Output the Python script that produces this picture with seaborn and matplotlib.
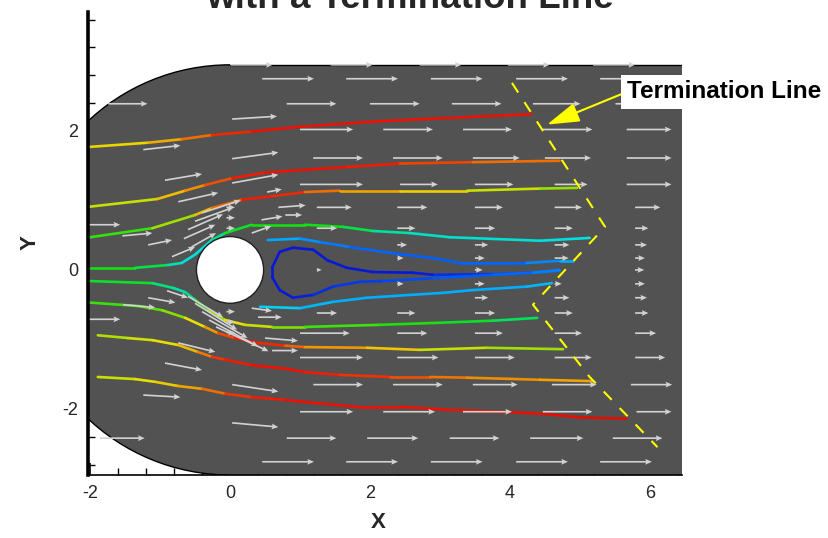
import numpy as np
import matplotlib
matplotlib.use("Agg")
import matplotlib.pyplot as plt
import seaborn as sns
from matplotlib import patches
from matplotlib.collections import LineCollection
from matplotlib.colors import LinearSegmentedColormap
from matplotlib.ticker import MultipleLocator

sns.set_theme(style="white")
plt.rcParams["font.family"] = ["Liberation Sans", "DejaVu Sans"]
plt.rcParams["axes.unicode_minus"] = False

# 流线：x, y, 颜色值（0 深蓝 ... 1 深红）
A_X = [-2.0, -1.17, -0.69, -0.26, 0.31, 1.0, 2.14, 3.43, 4.31]
A_Y = [1.77, 1.83, 1.88, 1.94, 1.99, 2.06, 2.14, 2.20, 2.24]
A_C = [0.65, 0.68, 0.78, 0.85, 0.9, 0.9, 0.9, 0.9, 0.9]

B_X = [-2.0, -1.04, -0.64, -0.36, 0.03, 0.5, 1.07, 1.67, 2.43, 3.47, 4.71]
B_Y = [0.91, 1.02, 1.14, 1.22, 1.32, 1.40, 1.44, 1.48, 1.53, 1.55, 1.57]
B_C = [0.6, 0.65, 0.75, 0.8, 0.88, 0.9, 0.9, 0.9, 0.88, 0.83, 0.8]

C_X = [-2.0, -1.11, -0.5, -0.26, 0.17, 0.6, 1.07, 1.57, 2.43, 3.39, 4.43, 4.96]
C_Y = [0.47, 0.60, 0.79, 0.89, 1.01, 1.06, 1.12, 1.14, 1.14, 1.14, 1.17, 1.18]
C_C = [0.5, 0.55, 0.65, 0.75, 0.88, 0.9, 0.85, 0.78, 0.7, 0.65, 0.6, 0.58]

D_X = [-2.0, -1.36, -0.89, -0.69, -0.5, -0.26, -0.07, 0.31, 1.07, 1.61, 2.04, 2.57, 3.14, 4.43, 5.14]
D_Y = [0.03, 0.03, 0.07, 0.10, 0.22, 0.43, 0.53, 0.65, 0.65, 0.62, 0.56, 0.53, 0.47, 0.42, 0.46]
D_C = [0.5, 0.5, 0.45, 0.38, 0.35, 0.4, 0.48, 0.5, 0.5, 0.5, 0.45, 0.4, 0.38, 0.37, 0.36]

E_X = [0.54, 1.0, 1.29, 1.71, 2.33, 2.9, 3.29, 4.24, 4.71, 4.9]
E_Y = [0.43, 0.45, 0.40, 0.33, 0.24, 0.17, 0.10, 0.10, 0.13, 0.13]
E_C = [0.3, 0.28, 0.25, 0.22, 0.2, 0.2, 0.2, 0.22, 0.28, 0.32]

F_X = [4.71, 4.33, 3.76, 2.9, 2.61, 2.04, 1.67, 1.39, 1.19, 0.9, 0.71, 0.6,
       0.6, 0.71, 0.9, 1.19, 1.47, 1.86, 2.19, 2.9, 3.76, 4.33, 4.71]
F_Y = [-0.01, -0.04, -0.06, -0.07, -0.04, -0.03, 0.03, 0.14, 0.29, 0.32, 0.26, 0.03,
       -0.10, -0.29, -0.40, -0.36, -0.24, -0.17, -0.16, -0.12, -0.07, -0.04, 0.0]
F_C = [0.25, 0.2, 0.15, 0.12, 0.1, 0.1, 0.1, 0.1, 0.1, 0.1, 0.1, 0.1,
       0.1, 0.1, 0.1, 0.12, 0.14, 0.15, 0.16, 0.18, 0.2, 0.22, 0.26]

G_X = [0.43, 1.0, 1.47, 1.96, 2.57, 3.04, 3.47, 4.24, 4.6]
G_Y = [-0.53, -0.55, -0.46, -0.40, -0.36, -0.33, -0.29, -0.24, -0.19]
G_C = [0.35, 0.32, 0.3, 0.3, 0.3, 0.3, 0.3, 0.3, 0.32]

H_X = [-2.0, -1.11, -0.81, -0.64, -0.5, -0.31, -0.07, 0.21, 0.6, 1.07, 2.14, 3.0, 3.76, 4.39]
H_Y = [-0.16, -0.19, -0.26, -0.32, -0.43, -0.58, -0.72, -0.79, -0.82, -0.82, -0.79, -0.76, -0.73, -0.69]
H_C = [0.5, 0.48, 0.42, 0.4, 0.48, 0.55, 0.65, 0.65, 0.6, 0.55, 0.52, 0.5, 0.48, 0.45]

I_X = [-2.0, -1.31, -0.97, -0.64, -0.36, -0.17, 0.07, 0.4, 0.79, 1.07, 1.96, 2.71, 3.67, 4.76]
I_Y = [-0.47, -0.52, -0.58, -0.69, -0.82, -0.91, -0.98, -1.05, -1.09, -1.11, -1.12, -1.15, -1.12, -1.14]
I_C = [0.52, 0.54, 0.56, 0.6, 0.7, 0.82, 0.88, 0.9, 0.85, 0.8, 0.72, 0.65, 0.6, 0.6]

J_X = [-1.89, -1.46, -1.11, -0.74, -0.46, -0.26, -0.07, 0.31, 0.79, 1.07, 1.57, 2.29, 2.86, 3.39, 4.43, 5.19]
J_Y = [-0.94, -0.98, -1.01, -1.08, -1.18, -1.25, -1.29, -1.37, -1.42, -1.47, -1.51, -1.54, -1.54, -1.55, -1.58, -1.60]
J_C = [0.6, 0.62, 0.64, 0.66, 0.76, 0.85, 0.88, 0.9, 0.9, 0.9, 0.88, 0.86, 0.82, 0.8, 0.75, 0.73]

K_X = [-1.89, -1.36, -1.07, -0.74, -0.4, -0.07, 0.31, 0.79, 1.07, 1.81, 2.43, 3.1, 3.86, 4.47, 5.0, 5.67]
K_Y = [-1.54, -1.57, -1.61, -1.67, -1.71, -1.78, -1.83, -1.87, -1.90, -1.97, -1.97, -2.01, -2.04, -2.07, -2.12, -2.14]
K_C = [0.6, 0.65, 0.66, 0.7, 0.78, 0.85, 0.88, 0.9, 0.9, 0.9, 0.9, 0.9, 0.9, 0.91, 0.92, 0.93]

STREAMS = [(A_X, A_Y, A_C), (B_X, B_Y, B_C), (C_X, C_Y, C_C), (D_X, D_Y, D_C),
           (E_X, E_Y, E_C), (F_X, F_Y, F_C), (G_X, G_Y, G_C), (H_X, H_Y, H_C),
           (I_X, I_Y, I_C), (J_X, J_Y, J_C), (K_X, K_Y, K_C)]

# 终止线
TERM_X = [4.03, 5.36, 4.33, 5.14, 6.11]
TERM_Y = [2.69, 0.62, -0.50, -1.54, -2.55]

# 矢量：按行记录（尾部 x、水平长度 u）
ROW_Y = [2.95, 2.75, 2.39, 2.02, 1.61, 1.23, 0.90, 0.60, 0.36, 0.17, 0.0,
         -0.20, -0.40, -0.62, -0.91, -1.26, -1.65, -2.04, -2.42, -2.76]
ROW_X = [
    [0.01, 1.44, 2.71, 3.97, 5.19],
    [0.46, 1.66, 2.87, 4.09, 5.29],
    [-1.74, 0.81, 2.0, 3.17, 4.33, 5.51],
    [1.0, 2.19, 3.33, 4.47, 5.67],
    [1.19, 2.33, 3.47, 4.5, 5.67],
    [1.0, 2.43, 3.5, 4.64, 5.67],
    [1.24, 2.39, 3.5, 4.64, 5.79],
    [1.24, 2.39, 3.5, 4.64, 5.79],
    [2.39, 3.5, 4.64, 5.79],
    [2.39, 3.5, 4.64, 5.79],
    [1.24, 3.5, 5.79],
    [2.39, 3.5, 4.64, 5.79],
    [3.5, 4.64, 5.79],
    [1.24, 2.39, 3.5, 4.64, 5.79],
    [1.0, 2.39, 3.5, 4.64, 5.79],
    [1.0, 2.39, 3.5, 4.64, 5.79],
    [1.19, 2.33, 3.47, 4.6, 5.73],
    [1.0, 2.19, 3.33, 4.47, 5.81],
    [-1.86, 0.81, 1.96, 3.14, 4.29, 5.47],
    [0.46, 1.66, 2.87, 4.09, 5.29],
]
ROW_U = [
    [0.6, 0.6, 0.6, 0.6, 0.6],
    [0.74, 0.74, 0.74, 0.74, 0.74],
    [0.56, 0.71, 0.71, 0.71, 0.68, 0.7],
    [0.76, 0.71, 0.7, 0.71, 0.64],
    [0.71, 0.71, 0.67, 0.66, 0.64],
    [0.9, 0.54, 0.55, 0.47, 0.64],
    [0.5, 0.43, 0.4, 0.39, 0.36],
    [0.29, 0.26, 0.29, 0.26, 0.19],
    [0.14, 0.19, 0.21, 0.17],
    [0.09, 0.14, 0.2, 0.14],
    [0.07, 0.11, 0.13],
    [0.09, 0.14, 0.1, 0.14],
    [0.19, 0.21, 0.17],
    [0.29, 0.26, 0.29, 0.26, 0.19],
    [0.71, 0.43, 0.4, 0.39, 0.3],
    [0.9, 0.59, 0.57, 0.53, 0.43],
    [0.71, 0.71, 0.64, 0.64, 0.59],
    [0.76, 0.74, 0.7, 0.71, 0.5],
    [0.64, 0.71, 0.73, 0.71, 0.76, 0.71],
    [0.74, 0.74, 0.74, 0.74, 0.74],
]

# 圆柱附近的矢量（x, y, u, v）
NEAR_X = [0.03, -1.24, 0.03, -0.93, 0.03, -0.74, 0.53, 0.69, -2.03, -1.54, -1.17, -0.83,
          -0.66, -0.6, -0.5, -0.4, -0.55, -0.05, -0.05, -0.05, 0.31, 0.79, 0.45,
          -2.03, -1.53, -1.17, -0.9, -1.24, -0.93, -0.74, 0.03, 0.03, 0.6, 0.5, 0.4, 0.31,
          -0.5, -0.4, -0.3, -0.2, -0.6, -0.05, -0.05, -0.05]
NEAR_Y = [2.17, 1.73, 1.6, 1.29, 1.25, 0.98, 1.12, 0.9, 0.65, 0.49, 0.36, 0.19,
          0.45, 0.58, 0.7, 0.82, 0.33, 0.6, 0.75, 0.9, 0.53, 0.79, 0.72,
          -0.71, -0.5, -0.4, -0.3, -1.8, -1.34, -1.05, -1.65, -2.2, -1.16, -0.98, -0.68, -0.55,
          -0.48, -0.6, -0.72, -0.82, -0.38, -0.6, -0.75, -0.9]
NEAR_U = [0.64, 0.53, 0.66, 0.53, 0.66, 0.57, 0.21, 0.39, 0.46, 0.43, 0.34, 0.33,
          0.45, 0.5, 0.55, 0.55, 0.35, 0.12, 0.12, 0.12, 0.28, 0.24, 0.3,
          0.46, 0.46, 0.39, 0.3, 0.53, 0.53, 0.53, 0.66, 0.66, 0.37, 0.47, 0.34, 0.29,
          0.6, 0.65, 0.7, 0.75, 0.5, 0.12, 0.12, 0.12]
NEAR_V = [0.04, 0.06, 0.09, 0.09, 0.12, 0.13, 0.04, 0.03, 0.0, 0.04, 0.07, 0.14,
          0.2, 0.22, 0.2, 0.18, 0.2, 0.0, 0.0, 0.0, 0.1, 0.0, 0.05,
          0.0, -0.04, -0.07, -0.1, -0.03, -0.1, -0.13, -0.1, -0.06, 0.0, -0.04, 0.0, -0.04,
          -0.38, -0.38, -0.38, -0.35, -0.3, 0.0, 0.0, 0.0]

DOMAIN_R = 2.95
CYL_R = 0.48
X_MIN, X_MAX = -2.03, 6.46
Y_MIN, Y_MAX = -2.95, 3.71

cmap = LinearSegmentedColormap.from_list("tec", [
    (0.0, "#000090"), (0.1, "#0818d8"), (0.2, "#0060ff"), (0.3, "#00b0ff"),
    (0.35, "#00e0f0"), (0.45, "#00e080"), (0.5, "#10e010"), (0.6, "#a0e000"),
    (0.65, "#e8e000"), (0.72, "#f0b000"), (0.8, "#f08000"), (0.9, "#f01000"),
    (1.0, "#c00000")])

fig = plt.figure(figsize=(8.29, 5.38), dpi=100)
ax = fig.add_axes([88 / 829, 63 / 538, 594 / 829, 463 / 538])
ax.set_xlim(X_MIN, X_MAX)
ax.set_ylim(Y_MIN, Y_MAX)

# 计算域：左边圆弧 + 右边矩形
gray = "#525252"
ax.add_patch(patches.Wedge((0, 0), DOMAIN_R, 90, 270, facecolor=gray, edgecolor="none", zorder=1))
ax.add_patch(patches.Rectangle((0, -DOMAIN_R), X_MAX, 2 * DOMAIN_R, facecolor=gray,
                               edgecolor="none", zorder=1))
ax.add_patch(patches.Arc((0, 0), 2 * DOMAIN_R, 2 * DOMAIN_R, theta1=90, theta2=270,
                         color="black", lw=1.0, zorder=1.5))
ax.plot([0, X_MAX], [DOMAIN_R, DOMAIN_R], color="black", lw=1.0, zorder=1.5)

# 流线
for xs, ys, cs in STREAMS:
    pts = np.column_stack([xs, ys])
    segs = np.stack([pts[:-1], pts[1:]], axis=1)
    cvals = [(cs[i] + cs[i + 1]) / 2 for i in range(len(cs) - 1)]
    lc = LineCollection(segs, colors=cmap(cvals), linewidths=1.9, zorder=3,
                        capstyle="round", joinstyle="round")
    ax.add_collection(lc)

# 矢量箭头
vx, vy, vu, vv = [], [], [], []
for y, xs, us in zip(ROW_Y, ROW_X, ROW_U):
    for x, u in zip(xs, us):
        vx.append(x)
        vy.append(y)
        vu.append(u)
        vv.append(0.0)
vx += NEAR_X
vy += NEAR_Y
vu += NEAR_U
vv += NEAR_V
ax.quiver(vx, vy, vu, vv, angles="xy", scale_units="xy", scale=1, color="#d2d2d2",
          width=0.0028, headwidth=3.5, headlength=4, headaxislength=3.5, zorder=4)

# 圆柱
ax.add_patch(patches.Circle((0, 0), CYL_R, facecolor="white", edgecolor="#202020",
                            lw=1.0, zorder=4.5))

# 终止线
sns.lineplot(x=TERM_X, y=TERM_Y, sort=False, estimator=None, ax=ax, color="#ffff00",
             lw=1.5, dashes=False, zorder=5)
ax.lines[-1].set_dashes([5.5, 5.5])

ax.annotate("Termination Line", xy=(4.53, 2.09), xytext=(5.67, 2.56), textcoords="data",
            ha="left", va="center", fontsize=17.5, fontweight="bold", color="black",
            bbox=dict(boxstyle="square,pad=0.22", fc="white", ec="none"),
            arrowprops=dict(arrowstyle="-|>,head_length=1.0,head_width=0.3", color="#ffff00",
                            lw=1.5, mutation_scale=20, shrinkA=0, shrinkB=0, relpos=(0, 0.5)),
            annotation_clip=False, zorder=6)

# 坐标轴
for side in ["top", "right"]:
    ax.spines[side].set_visible(False)
ax.spines["left"].set_linewidth(2.6)
ax.spines["left"].set_color("black")
ax.spines["bottom"].set_linewidth(1.2)
ax.spines["bottom"].set_color("black")
for sp in ax.spines.values():
    sp.set_zorder(7)

ax.xaxis.set_major_locator(MultipleLocator(2))
ax.xaxis.set_minor_locator(MultipleLocator(0.4))
ax.yaxis.set_major_locator(MultipleLocator(2))
ax.yaxis.set_minor_locator(MultipleLocator(0.4))
ax.tick_params(which="both", direction="in", color="black", bottom=True, left=True,
               top=False, right=False)
ax.tick_params(which="major", length=9, width=1.2, labelsize=13, pad=7)
ax.tick_params(which="minor", length=5, width=1.0)
ax.grid(False)

ax.set_xlabel("")
ax.set_ylabel("")
fig.text(378 / 829, 1 - 522 / 538, "X", ha="center", va="center", fontsize=16, fontweight="bold")
fig.text(30 / 829, 1 - 243 / 538, "Y", ha="center", va="center", fontsize=16,
         fontweight="bold", rotation=90)
fig.text(0.495, 1 - 8 / 538, "with a Termination Line", ha="center", va="baseline",
         fontsize=26.5, fontweight="bold")

fig.savefig("out.png", dpi=100, facecolor="white")
